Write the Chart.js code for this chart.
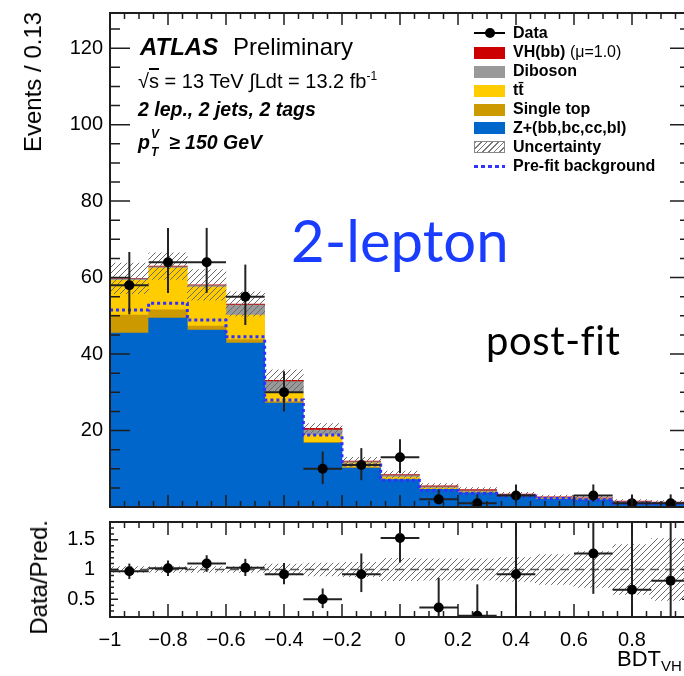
<!DOCTYPE html>
<html>
<head>
<meta charset="utf-8">
<script src="https://cdn.jsdelivr.net/npm/chart.js@4.4.0/dist/chart.umd.min.js"></script>
<style>
  html, body { margin: 0; padding: 0; background: #fff; width: 684px; height: 676px; overflow: hidden; }
  canvas { position: absolute; left: 0; }
  #main { top: 0; }
  #ratio { top: 512px; }
  .t { position: absolute; white-space: nowrap; font-family: "Liberation Sans", Arial, sans-serif; color: #000; line-height: 1; }
  .bi { font-weight: bold; font-style: italic; }
  .ytitle { writing-mode: vertical-rl; transform: rotate(180deg); font-size: 24px; line-height: 24px; }
  .lg { position: absolute; left: 513px; font: bold 16px "Liberation Sans", Arial, sans-serif; line-height: 16px; white-space: nowrap; }
  .sw { position: absolute; left: 474px; width: 31px; height: 12px; }
  .big { position: absolute; white-space: nowrap; font-family: Lato, "Open Sans", sans-serif; line-height: 1; }
</style>
</head>
<body>
<canvas id="main" width="700" height="512"></canvas>
<canvas id="ratio" width="700" height="164"></canvas>

<!-- ATLAS label block -->
<div class="t bi" style="left:140px; top:35px; font-size:24px;">ATLAS</div>
<div class="t" style="left:233px; top:35px; font-size:24px;">Preliminary</div>
<div class="t" style="left:138px; top:70px; font-size:20px;">√<span style="text-decoration:overline">s</span> = 13 TeV ∫Ldt = 13.2 fb<sup style="font-size:12px">-1</sup></div>
<div class="t bi" style="left:138px; top:100px; font-size:19.5px;">2 lep., 2 jets, 2 tags</div>
<div class="t bi" style="left:138px; top:133px; font-size:19.5px;">p</div>
<div class="t bi" style="left:151px; top:128px; font-size:12px;">V</div>
<div class="t bi" style="left:151px; top:146px; font-size:12px;">T</div>
<div class="t bi" style="left:169px; top:133px; font-size:19.5px;">≥ 150 GeV</div>

<!-- legend -->
<div class="sw" style="top:32px; height:2px; background:#000;"></div>
<div class="sw" style="top:28px; left:485px; width:10px; height:10px; border-radius:50%; background:#000;"></div>
<div class="lg" style="top:25px;">Data</div>
<div class="sw" style="top:47px; background:#cc0000;"></div>
<div class="lg" style="top:44px;">VH(bb) <span style="font-weight:normal">(μ=1.0)</span></div>
<div class="sw" style="top:66px; background:#999999;"></div>
<div class="lg" style="top:63px;">Diboson</div>
<div class="sw" style="top:85px; background:#ffcc00;"></div>
<div class="lg" style="top:82px;">tt̄</div>
<div class="sw" style="top:104px; background:#cc9900;"></div>
<div class="lg" style="top:101px;">Single top</div>
<div class="sw" style="top:122px; background:#0066cc;"></div>
<div class="lg" style="top:120px;">Z+(bb,bc,cc,bl)</div>
<div class="sw" style="top:141px; width:29px; height:10px; border:1px solid #888; background:repeating-linear-gradient(135deg, #777 0 1px, #fff 1px 4px);"></div>
<div class="lg" style="top:139px;">Uncertainty</div>
<div class="sw" style="top:165px; height:3px; background:repeating-linear-gradient(90deg, #3333ff 0 4px, transparent 4px 7px);"></div>
<div class="lg" style="top:158px;">Pre-fit background</div>

<!-- overlay annotations -->
<div class="big" style="left:291px; top:211px; font-size:58px; color:#1a3cff;">2-lepton</div>
<div class="big" style="left:486px; top:320px; font-size:40px; letter-spacing:0.6px; color:#000;">post-fit</div>

<!-- axis titles -->
<div class="t ytitle" style="left:21px; top:12px;">Events / 0.13</div>
<div class="t ytitle" style="left:27px; top:520px;">Data/Pred.</div>
<div class="t" style="left:617px; top:648px; font-size:22px;">BDT<sub style="font-size:15px">VH</sub></div>

<script>
// BDT_VH binning, 15 bins of 0.13
const binEdges = [-1, -0.8667, -0.7333, -0.6, -0.4667, -0.3333, -0.2, -0.0667, 0.0667, 0.2, 0.3333, 0.4667, 0.6, 0.7333, 0.8667, 1];

// post-fit stack, events per bin (bottom to top)
const zjets     = [45.5, 49.4, 46.3, 42.9, 27.2, 16.7, 10.2, 7.2, 4.6, 3.7, 2.7, 2.1, 1.9, 1.1, 0.9];
const singleTop = [4.7, 2.2, 1.0, 0.9, 0.4, 0.2, 0.1, 0.1, 0.05, 0.05, 0.05, 0.05, 0.05, 0.05, 0.05];
const ttbar     = [9.1, 10.9, 10.2, 6.4, 2.2, 1.9, 1.2, 0.5, 0.3, 0.2, 0.15, 0.1, 0.1, 0.1, 0.05];
const diboson   = [0.4, 0.3, 0.4, 2.6, 3.0, 1.3, 0.3, 0.4, 0.3, 0.3, 0.2, 0.2, 0.15, 0.1, 0.1];
const vhbb      = [0.1, 0.2, 0.2, 0.3, 0.3, 0.5, 0.2, 0.3, 0.3, 0.3, 0.25, 0.2, 0.2, 0.2, 0.2];
const bkgUnc    = [4.0, 3.5, 4.0, 3.2, 2.8, 1.2, 1.0, 0.9, 0.6, 0.5, 0.5, 0.5, 0.5, 0.4, 0.4];
const prefit    = [51.5, 53.3, 48.9, 44.5, 28.0, 18.8, 11.0, 7.0, 4.4, 3.6, 2.9, 2.2, 1.9, 1.0, 0.9];

// data
const data      = [58, 64, 64, 55, 30, 10, 11, 13, 2, 1, 3, null, 3, 1, 1];
const dataErrLo = [7.6, 8.0, 8.0, 7.4, 5.0, 4.0, 4.0, 4.2, 1.3, 0.8, 1.6, null, 1.6, 0.8, 0.8];
const dataErrHi = [8.7, 9.0, 9.0, 8.4, 5.5, 4.5, 4.4, 4.7, 2.6, 2.3, 2.9, null, 2.9, 2.3, 2.3];

// ratio panel
const ratio      = [0.97, 1.02, 1.10, 1.03, 0.92, 0.50, 0.92, 1.53, 0.36, 0.22, 0.92, null, 1.27, 0.66, 0.81];
const ratioErrLo = [0.13, 0.13, 0.14, 0.14, 0.17, 0.15, 0.30, 0.41, 0.24, 0.22, 0.75, null, 0.68, 0.6, 0.7];
const ratioErrHi = [0.13, 0.13, 0.14, 0.15, 0.19, 0.18, 0.35, 0.50, 0.50, 0.53, 0.90, null, 0.90, 1.2, 1.2];
const ratioUnc   = [0.05, 0.05, 0.05, 0.05, 0.09, 0.11, 0.12, 0.19, 0.18, 0.18, 0.20, 0.25, 0.30, 0.42, 0.52];

const mainMax = 129.2;

Chart.defaults.font.family = "'Liberation Sans', Arial, sans-serif";
Chart.defaults.color = '#000';

const centers = binEdges.slice(0, -1).map((e, i) => (e + binEdges[i + 1]) / 2);
const pts = arr => arr.map((v, i) => ({x: centers[i], y: v}));
const range = (mid, lo, hi) => mid.map((v, i) => ({x: centers[i], y: v == null ? null : [v - lo[i], v + hi[i]]}));
const total = zjets.map((v, i) => v + singleTop[i] + ttbar[i] + diboson[i] + vhbb[i]);

function hatch() {
    const c = document.createElement('canvas');
    c.width = 6; c.height = 6;
    const g = c.getContext('2d');
    g.strokeStyle = '#6a6a6a';
    g.lineWidth = 1;
    g.beginPath();
    g.moveTo(0, 6); g.lineTo(6, 0);
    g.moveTo(-1, 1); g.lineTo(1, -1);
    g.moveTo(5, 7); g.lineTo(7, 5);
    g.stroke();
    return g.createPattern(c, 'repeat');
}

var halfBin = function (ctx) {
    const s = ctx.chart.scales.x;
    return Math.abs(s.getPixelForValue(binEdges[1]) - s.getPixelForValue(binEdges[0])) / 2;
};

// no automatic label padding, the frame has to sit on fixed pixels
var noPad = function (scale) {
    scale.paddingTop = 0; scale.paddingBottom = 0;
    scale.paddingLeft = 0; scale.paddingRight = 0;
};

// ROOT style frame with ticks pointing inwards
const rootFrame = {
    id: 'rootFrame',
    afterDatasetsDraw(chart, args, o) {
        const {ctx, chartArea: a} = chart;
        const x = chart.scales.x, y = chart.scales.y;
        const isMajor = (v, step) => Math.abs(v / step - Math.round(v / step)) < 1e-6;
        ctx.save();
        ctx.strokeStyle = '#1e1e1e';
        ctx.lineWidth = 1.5;
        ctx.beginPath();
        for (let n = Math.ceil(x.min / o.xMinor - 1e-6); n <= Math.floor(x.max / o.xMinor + 1e-6); n++) {
            const v = n * o.xMinor;
            const len = isMajor(v, o.xMajor) ? o.xMajorLen : o.xMinorLen;
            const px = x.getPixelForValue(v);
            ctx.moveTo(px, a.bottom); ctx.lineTo(px, a.bottom - len);
            ctx.moveTo(px, a.top); ctx.lineTo(px, a.top + len);
        }
        for (let n = Math.ceil(y.min / o.yMinor - 1e-6); n <= Math.floor(y.max / o.yMinor + 1e-6); n++) {
            const v = n * o.yMinor;
            const len = isMajor(v, o.yMajor) ? o.yMajorLen : o.yMinorLen;
            const py = y.getPixelForValue(v);
            ctx.moveTo(a.left, py); ctx.lineTo(a.left + len, py);
            ctx.moveTo(a.right, py); ctx.lineTo(a.right - len, py);
        }
        ctx.stroke();
        ctx.lineWidth = 2;
        ctx.strokeRect(a.left, a.top, a.right - a.left, a.bottom - a.top);
        ctx.restore();
    }
};

var stackSet = function (label, arr, color) {
    return {
        type: 'bar', label: label, data: pts(arr), yAxisID: 'y',
        backgroundColor: color, borderWidth: 0,
        grouped: false, barPercentage: 1, categoryPercentage: 1, order: 10
    };
};

var whiskers = function (arr, axis) {
    return {
        type: 'line', data: pts(arr), showLine: false, yAxisID: axis,
        pointStyle: 'line', pointRadius: halfBin, pointBorderColor: '#222', pointBorderWidth: 2, order: 2
    };
};

var dots = function (arr, axis) {
    return {
        type: 'line', data: pts(arr), showLine: false, yAxisID: axis,
        pointRadius: 5, pointBackgroundColor: '#000', pointBorderWidth: 0, order: 1
    };
};

var errBars = function (mid, lo, hi, axis) {
    return {
        type: 'bar', data: range(mid, lo, hi), yAxisID: axis,
        backgroundColor: '#222', borderWidth: 0, grouped: false, maxBarThickness: 2, clip: 0, order: 3
    };
};

const common = {
    responsive: false,
    animation: false,
    events: [],
    devicePixelRatio: 1,
    plugins: { legend: { display: false }, tooltip: { enabled: false } }
};

const noGrid = { display: false, drawTicks: false };

new Chart(document.getElementById('main'), {
    type: 'bar',
    data: {
        datasets: [
            stackSet('Z+(bb,bc,cc,bl)', zjets, '#0066cc'),
            stackSet('Single top', singleTop, '#cc9900'),
            stackSet('tt', ttbar, '#ffcc00'),
            stackSet('Diboson', diboson, '#999999'),
            stackSet('VH(bb)', vhbb, '#cc0000'),
            {
                type: 'bar', label: 'Uncertainty', yAxisID: 'yu',
                data: centers.map((c, i) => ({x: c, y: [total[i] - bkgUnc[i], total[i] + bkgUnc[i]]})),
                backgroundColor: hatch(), borderWidth: 0, grouped: false,
                barPercentage: 1, categoryPercentage: 1, clip: 0, order: 5
            },
            {
                type: 'line', label: 'Pre-fit background', yAxisID: 'yu',
                data: binEdges.map((e, i) => ({x: e, y: prefit[Math.min(i, prefit.length - 1)]})),
                stepped: 'before', borderColor: '#2f2fff', borderWidth: 3, borderDash: [3, 3],
                pointRadius: 0, fill: false, order: 4
            },
            errBars(data, dataErrLo, dataErrHi, 'yu'),
            whiskers(data, 'yu'),
            dots(data, 'yu')
        ]
    },
    options: Object.assign({}, common, {
        layout: { padding: { top: 13, right: 10, bottom: 5, left: 0 } },
        scales: {
            x: { type: 'linear', display: false, offset: false, min: -1, max: 1, ticks: { stepSize: 0.2 } },
            y: {
                type: 'linear', stacked: true, min: 0, max: mainMax,
                grid: noGrid, border: { display: false },
                ticks: {
                    stepSize: 20, includeBounds: false, padding: 7, color: '#000', font: { size: 20 },
                    callback: v => v === 0 ? '' : v
                },
                afterFit: scale => { scale.width = 110; noPad(scale); }
            },
            yu: { type: 'linear', display: false, min: 0, max: mainMax }
        },
        plugins: Object.assign({}, common.plugins, {
            rootFrame: { xMajor: 0.2, xMinor: 0.05, xMajorLen: 12, xMinorLen: 6, yMajor: 20, yMinor: 5, yMajorLen: 20, yMinorLen: 10 }
        })
    }),
    plugins: [rootFrame]
});

new Chart(document.getElementById('ratio'), {
    type: 'bar',
    data: {
        datasets: [
            {
                type: 'bar', label: 'Uncertainty',
                data: centers.map((c, i) => ({x: c, y: [1 - ratioUnc[i], 1 + ratioUnc[i]]})),
                backgroundColor: hatch(), borderWidth: 0, grouped: false,
                barPercentage: 1, categoryPercentage: 1, clip: 0, order: 5
            },
            {
                type: 'line', data: [{x: binEdges[0], y: 1}, {x: binEdges[binEdges.length - 1], y: 1}],
                borderColor: '#555', borderWidth: 1.5, borderDash: [9, 6], pointRadius: 0, order: 4
            },
            errBars(ratio, ratioErrLo, ratioErrHi, 'y'),
            whiskers(ratio, 'y'),
            dots(ratio, 'y')
        ]
    },
    options: Object.assign({}, common, {
        layout: { padding: { top: 10, right: 10, bottom: 0, left: 0 } },
        scales: {
            x: {
                type: 'linear', min: -1, max: 1, offset: false,
                grid: noGrid, border: { display: false },
                ticks: {
                    stepSize: 0.2, padding: 11, color: '#000', font: { size: 20 }, maxRotation: 0, autoSkip: false,
                    callback: v => { const r = Math.round(v * 10) / 10; return r < 0 ? '\u2212' + Math.abs(r) : String(r); }
                },
                afterFit: scale => { scale.height = 59; noPad(scale); }
            },
            y: {
                type: 'linear', min: 0.2, max: 1.8,
                grid: noGrid, border: { display: false },
                ticks: {
                    stepSize: 0.5, includeBounds: false, padding: 15, color: '#000', font: { size: 20 },
                    callback: v => String(Math.round(v * 10) / 10)
                },
                afterFit: scale => { scale.width = 110; noPad(scale); }
            }
        },
        plugins: Object.assign({}, common.plugins, {
            rootFrame: { xMajor: 0.2, xMinor: 0.05, xMajorLen: 13, xMinorLen: 6, yMajor: 0.5, yMinor: 0.1, yMajorLen: 8, yMinorLen: 4 }
        })
    }),
    plugins: [rootFrame]
});
</script>
</body>
</html>
